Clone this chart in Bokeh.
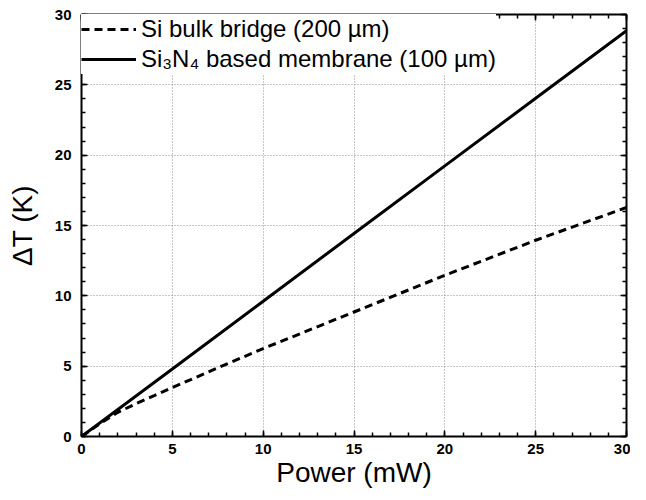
from bokeh.plotting import figure
from bokeh.models import Range1d, LinearAxis, SingleIntervalTicker, Legend, LegendItem
from bokeh.embed import file_html
from bokeh.resources import INLINE

# Data
power_si = [0, 1, 2, 3, 4, 5, 7.5, 10, 15, 20, 25, 30]
dT_si = [0, 0.9, 1.72, 2.33, 2.9, 3.48, 4.88, 6.25, 8.85, 11.46, 13.95, 16.28]

power_mem = [0, 5, 10, 15, 20, 25, 30]
dT_mem = [0, 4.8, 9.62, 14.43, 19.24, 24.05, 28.85]

label_si = "Si bulk bridge (200 µm)"
label_mem = "Si₃N₄ based membrane (100 µm)"

FONT = "Liberation Sans"

p = figure(width=630, height=492, output_backend="svg", toolbar_location=None,
           x_range=Range1d(0, 30), y_range=Range1d(0, 30),
           min_border_left=81, min_border_top=14, min_border_right=4, min_border_bottom=56,
           x_axis_label="Power (mW)", y_axis_label="ΔT (K)")
p.outline_line_color = None
p.background_fill_color = "white"

def style_axis(ax, labels=True):
    ax.ticker = SingleIntervalTicker(interval=5, num_minor_ticks=5)
    ax.axis_line_width = 2
    ax.axis_line_color = "black"
    ax.major_tick_in = 6
    ax.major_tick_out = 0
    ax.minor_tick_in = 4
    ax.minor_tick_out = 0
    ax.major_tick_line_width = 1.5
    ax.minor_tick_line_width = 1.5
    ax.major_tick_line_color = "black"
    ax.minor_tick_line_color = "black"
    if labels:
        ax.major_label_text_font = FONT
        ax.major_label_text_font_style = "bold"
        ax.major_label_text_font_size = "15px"
        ax.major_label_text_color = "black"
        ax.axis_label_text_font = FONT
        ax.axis_label_text_font_style = "normal"
        ax.axis_label_text_font_size = "28px"
        ax.axis_label_text_color = "black"
    else:
        ax.major_label_text_font_size = "1px"
        ax.major_label_text_color = None
        ax.major_label_standoff = 0

for ax in p.xaxis + p.yaxis:
    style_axis(ax)
p.xaxis.major_label_standoff = 7
p.xaxis.axis_label_standoff = 0
p.yaxis.major_label_standoff = 10
p.yaxis.axis_label_standoff = 14

ax_top = LinearAxis()
style_axis(ax_top, labels=False)
p.add_layout(ax_top, "above")
ax_right = LinearAxis()
style_axis(ax_right, labels=False)
p.add_layout(ax_right, "right")

for g in (p.xgrid, p.ygrid):
    g.ticker = SingleIntervalTicker(interval=5)
    g.grid_line_color = "#8c8c8c"
    g.grid_line_dash = "1 2"
    g.grid_line_width = 1

r_si = p.line(power_si, dT_si, line_color="black", line_width=3, line_dash="8 5")
r_mem = p.line(power_mem, dT_mem, line_color="black", line_width=3)

legend = Legend(items=[LegendItem(label=label_si, renderers=[r_si]),
                       LegendItem(label=label_mem, renderers=[r_mem])],
                location="top_left", margin=0, padding=4, spacing=0,
                glyph_width=55, glyph_height=30, label_height=30, label_standoff=5,
                border_line_color=None, background_fill_color="white", background_fill_alpha=1,
                label_text_font=FONT, label_text_font_size="24px", label_text_color="black")
p.add_layout(legend)

open("out.html", "w").write(file_html(p, INLINE))
